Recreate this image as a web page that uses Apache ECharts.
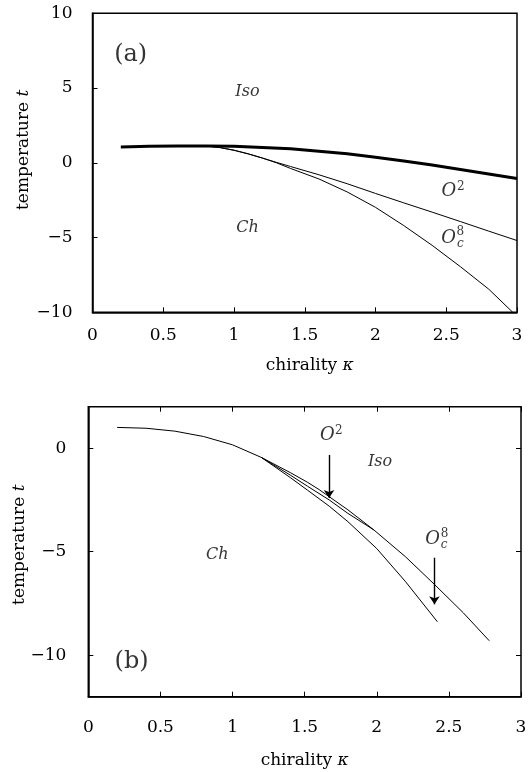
<!DOCTYPE html>
<html><head><meta charset="utf-8">
<script src="https://cdn.jsdelivr.net/npm/echarts@6/dist/echarts.min.js"></script>
<style>html,body{margin:0;padding:0;background:#fff}#c{width:529px;height:772px}</style>
</head><body><div id="c"></div>
<script>
// ---- Panel (a) data ----
const xTicks = [0, 0.5, 1, 1.5, 2, 2.5, 3];
const topIsoK = [0.2, 0.4, 0.6, 0.8, 1.0, 1.2, 1.4, 1.6, 1.8, 2.0, 2.2, 2.4, 2.6, 2.8, 3.0];
const topIsoT = [1.05, 1.1, 1.12, 1.13, 1.1, 1.03, 0.94, 0.78, 0.6, 0.37, 0.12, -0.15, -0.45, -0.75, -1.05];
const topO2K = [0.8, 0.9, 1.0, 1.1, 1.2, 1.3, 1.4, 1.6, 1.8, 2.0, 2.2, 2.4, 2.6, 2.8, 3.0];
const topO2T = [1.13, 1.02, 0.84, 0.6, 0.32, 0.03, -0.25, -0.8, -1.4, -2.05, -2.68, -3.3, -3.93, -4.57, -5.2];
const topOc8K = [0.8, 0.9, 1.0, 1.1, 1.2, 1.3, 1.4, 1.6, 1.8, 2.0, 2.2, 2.4, 2.6, 2.8, 2.97];
const topOc8T = [1.13, 1.02, 0.84, 0.6, 0.32, 0.0, -0.38, -1.08, -1.95, -2.98, -4.2, -5.52, -6.95, -8.45, -10];
const topYTicks = [-10, -5, 0, 5, 10];

// ---- Panel (b) data ----
const botIsoK = [0.2, 0.4, 0.6, 0.8, 1.0, 1.2, 1.4, 1.52, 1.6, 1.8, 1.98, 2.2, 2.4, 2.6, 2.78];
const botIsoT = [1.0, 0.96, 0.82, 0.56, 0.16, -0.45, -1.18, -1.65, -2.0, -2.98, -3.95, -5.25, -6.58, -7.95, -9.3];
const botO2K = [1.2, 1.4, 1.52, 1.67, 1.8, 1.98];
const botO2T = [-0.45, -1.3, -1.84, -2.5, -3.15, -3.95];
const botChK = [1.2, 1.4, 1.52, 1.67, 1.8, 2.0, 2.2, 2.42];
const botChT = [-0.45, -1.42, -2.03, -2.8, -3.55, -4.85, -6.45, -8.38];
const botYTicks = [-10, -5, 0];
// arrows: [kappa, t start, t end]
const arrowO2 = [1.669, -0.33, -2.41];
const arrowOc8 = [2.40, -5.29, -7.54];

const zip = (k, t) => k.map((v, i) => [v, t[i]]);
const FONT = 'DejaVu Serif';
const minus = v => String(v).replace('-', '\u2212');

function txt(k, t, s, size, italic, off) {
  return { value: [k, t], label: { formatter: s, fontSize: size, fontStyle: italic ? 'italic' : 'normal', offset: off || [0, 0] } };
}
const annTop = [
  txt(0.27, 7.2, '(a)', 24, false),
  txt(1.095, 4.77, 'Iso', 16, true),
  txt(1.095, -4.37, 'Ch', 16, true),
  txt(2.519, -1.92, 'O', 18, true), txt(2.519, -1.92, '2', 12, false, [12, -5]),
  txt(2.517, -5.04, 'O', 18, true), txt(2.517, -5.04, '8', 12, false, [11.6, -6.3]), txt(2.517, -5.04, 'c', 12, true, [11.6, 6.2])
];
const annBot = [
  txt(0.30, -10.3, '(b)', 24, false),
  txt(2.023, -0.65, 'Iso', 16, true),
  txt(0.895, -5.17, 'Ch', 16, true),
  txt(1.657, 0.63, 'O', 18, true), txt(1.657, 0.63, '2', 12, false, [11.6, -4.6]),
  txt(2.387, -4.41, 'O', 18, true), txt(2.387, -4.41, '8', 12, false, [12, -5.7]), txt(2.387, -4.41, 'c', 12, true, [11.5, 5.5])
];

const lbl = { fontFamily: FONT, fontSize: 17, color: '#000' };
const nameStyle = { fontFamily: FONT, fontSize: 17, color: '#000', rich: { k: { fontFamily: FONT, fontSize: 17, fontStyle: 'italic', color: '#000' } } };
const axLine = { show: true, onZero: false, lineStyle: { color: '#000', width: 1.5 } };
const noLine = { show: false, onZero: false };
const tick = { show: true, inside: true, length: 5, lineStyle: { color: '#000', width: 1 } };

function curve(xi, yi, k, t, w) {
  return { type: 'line', xAxisIndex: xi, yAxisIndex: yi, data: zip(k, t), showSymbol: false, symbol: 'none', smooth: false,
    lineStyle: { color: '#000', width: w }, silent: true };
}

const chart = echarts.init(document.getElementById('c'));
const botIsoSeries = curve(1, 1, botIsoK, botIsoT, 1);
botIsoSeries.markLine = { silent: true, symbol: ['none', 'arrow'], symbolSize: 8, label: { show: false },
  lineStyle: { color: '#000', width: 1.4, type: 'solid' },
  data: [
    [{ coord: [arrowO2[0], arrowO2[1]] }, { coord: [arrowO2[0], arrowO2[2]] }],
    [{ coord: [arrowOc8[0], arrowOc8[1]] }, { coord: [arrowOc8[0], arrowOc8[2]] }]
  ] };

chart.setOption({
  animation: false,
  backgroundColor: '#fff',
  grid: [
    { left: 92.5, top: 13.3, width: 424.5, height: 299, show: true, borderColor: '#000', borderWidth: 1.5, containLabel: false, outerBoundsMode: 'none' },
    { left: 88.3, top: 406.7, width: 432.7, height: 290, show: true, borderColor: '#000', borderWidth: 1.5, containLabel: false, outerBoundsMode: 'none' }
  ],
  xAxis: [
    { gridIndex: 0, type: 'value', min: 0, max: 3, interval: 0.5, name: 'chirality {k|κ}', nameLocation: 'middle', nameGap: 45, nameMoveOverlap: false,
      nameTextStyle: Object.assign({ padding: [0, 0, 0, 10] }, nameStyle), axisLine: axLine, axisTick: tick,
      axisLabel: Object.assign({ margin: 15, customValues: xTicks }, lbl), splitLine: { show: false } },
    { gridIndex: 1, type: 'value', min: 0, max: 3, interval: 0.5, name: 'chirality {k|κ}', nameLocation: 'middle', nameGap: 55, nameMoveOverlap: false,
      nameTextStyle: nameStyle, axisLine: axLine, axisTick: tick,
      axisLabel: Object.assign({ margin: 22, customValues: xTicks }, lbl), splitLine: { show: false } },
    { gridIndex: 1, type: 'value', position: 'top', min: 0, max: 3, interval: 0.5, axisLine: noLine, axisTick: tick,
      axisLabel: { show: false }, splitLine: { show: false } }
  ],
  yAxis: [
    { gridIndex: 0, type: 'value', min: -10, max: 10, interval: 5, name: 'temperature {k|t}', nameLocation: 'middle', nameGap: 60, nameRotate: 90, nameMoveOverlap: false,
      nameTextStyle: Object.assign({ padding: [0, 0, 0, 26] }, nameStyle), axisLine: axLine, axisTick: Object.assign({ customValues: topYTicks }, tick),
      axisLabel: Object.assign({ margin: 20, formatter: minus, customValues: topYTicks }, lbl), splitLine: { show: false } },
    { gridIndex: 1, type: 'value', min: -12, max: 2, name: 'temperature {k|t}', nameLocation: 'middle', nameGap: 60, nameRotate: 90, nameMoveOverlap: false,
      nameTextStyle: Object.assign({ padding: [0, 0, 0, 14] }, nameStyle), axisLine: axLine, axisTick: Object.assign({ customValues: botYTicks }, tick),
      axisLabel: Object.assign({ margin: 22, formatter: minus, customValues: botYTicks }, lbl), splitLine: { show: false } },
    { gridIndex: 1, type: 'value', position: 'right', min: -12, max: 2, axisLine: noLine,
      axisTick: Object.assign({ customValues: botYTicks }, tick), axisLabel: { show: false }, splitLine: { show: false } }
  ],
  series: [
    curve(0, 0, topIsoK, topIsoT, 3),
    curve(0, 0, topO2K, topO2T, 1),
    curve(0, 0, topOc8K, topOc8T, 1),
    botIsoSeries,
    curve(1, 1, botO2K, botO2T, 1),
    curve(1, 1, botChK, botChT, 1),
    { type: 'scatter', xAxisIndex: 0, yAxisIndex: 0, data: annTop, symbolSize: 0, silent: true, z: 10,
      label: { show: true, position: 'inside', align: 'center', verticalAlign: 'middle', fontFamily: FONT, color: '#000' } },
    { type: 'scatter', xAxisIndex: 1, yAxisIndex: 1, data: annBot, symbolSize: 0, silent: true, z: 10,
      label: { show: true, position: 'inside', align: 'center', verticalAlign: 'middle', fontFamily: FONT, color: '#000' } }
  ]
});
</script></body></html>
